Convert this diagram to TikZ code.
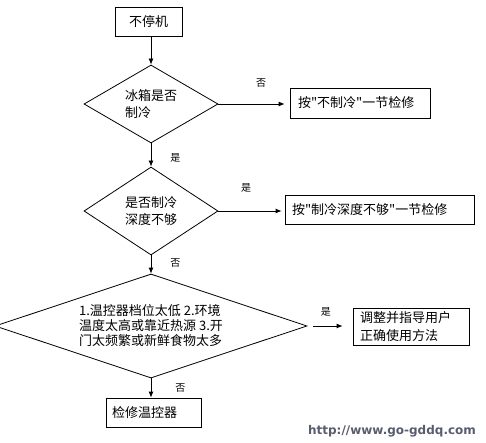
\documentclass[tikz,border=0pt]{standalone}
\usepackage{fontspec}
\setmainfont{Noto Sans CJK SC}[Ligatures=TeXOff]
\newfontfamily\wmfont{DejaVu Sans}
\usetikzlibrary{positioning}
\usetikzlibrary{arrows.meta}
\usetikzlibrary{shapes.geometric}
\definecolor{wmgray}{RGB}{88,92,110}

\begin{document}
\begin{tikzpicture}[
    x=1pt, y=-1pt,
    proc/.style = {draw, line width=0.8pt, inner ysep=0pt, align=left, font=\fontsize{13}{17}\selectfont},
    decision/.style = {draw, diamond, line width=0.8pt, inner sep=0pt, align=left, font=\fontsize{13}{17}\selectfont},
    arr/.style = {-{Latex[length=6pt,width=5pt]}, line width=0.8pt},
    tag/.style = {font=\fontsize{10}{12}\selectfont},
    ]
    \useasboundingbox (0,0) rectangle (486,443);

    % boxes
    \node[proc, align=center, minimum width=67pt, minimum height=29pt] (b1) at (148.5,21.5) {不停机};
    \node[proc, inner xsep=8pt, text width=124pt, minimum height=30pt] (b2) at (360,103) {按"不制冷"一节检修};
    \node[proc, inner xsep=7pt, text width=175pt, minimum height=29pt] (b3) at (379.5,209.5) {按"制冷深度不够"一节检修};
    \node[proc, inner xsep=7pt, text width=102pt, minimum height=37pt, font=\fontsize{13}{18}\selectfont] (b4) at (411,326.5) {调整并指导用户\\正确使用方法};
    \node[proc, inner xsep=6pt, text width=83pt, minimum height=29pt] (b5) at (153.5,412.5) {检修温控器};

    % decisions
    \node[decision, aspect=1.7, minimum width=134pt, minimum height=78pt] (d1) at (151,104) {冰箱是否\\制冷};
    \node[decision, aspect=1.7, minimum width=134pt, minimum height=88pt] (d2) at (151,211) {是否制冷\\深度不够};
    \node[decision, aspect=3, minimum width=312pt, minimum height=104pt, font=\fontsize{13}{15}\selectfont] (d3) at (151,326)
      {1.温控器档位太低 2.环境\\温度太高或靠近热源 3.开\\门太频繁或新鲜食物太多};

    % connectors
    \draw[arr] (b1.south -| d1) -- (d1.north);
    \draw[arr, shorten >=5pt] (d1.east) -- node[tag, pos=0.6, above=13pt] {否} (d1.east -| b2.west);
    \draw[arr] (d1.south) -- node[tag, pos=0.62, right=15.7pt] {是} (d2.north);
    \draw[arr, shorten >=3pt] (d2.east) -- node[tag, pos=0.42, above=14.7pt] {是} (d2.east -| b3.west);
    \draw[arr] (d2.south) -- node[tag, pos=0.42, right=15.7pt] {否} (d3.north);
    \draw[arr, shorten <=6pt, shorten >=10pt] (d3.east) -- node[tag, pos=0.41, above=5.7pt] {是} (d3.east -| b4.west);
    \draw[arr] (d3.south) -- node[tag, pos=0.5, right=20.7pt] {否} (d3.south |- b5.north);

    \node[font=\wmfont\bfseries\fontsize{12}{14}\selectfont, text=wmgray] (wm) at (392,431) {http://www.go-gddq.com};

\end{tikzpicture}
\end{document}
